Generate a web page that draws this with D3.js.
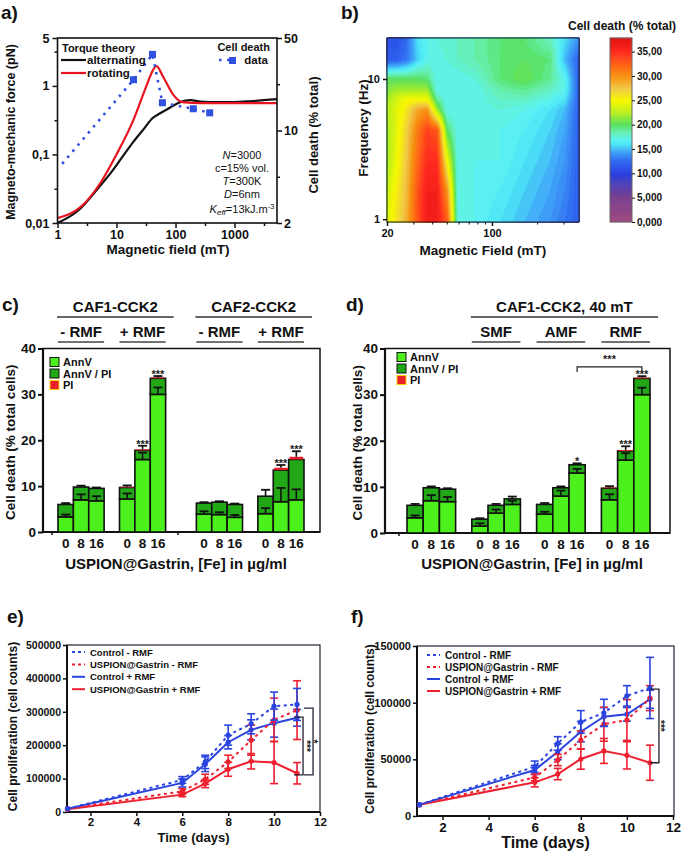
<!DOCTYPE html>
<html><head><meta charset="utf-8">
<script src="https://cdn.jsdelivr.net/npm/d3@7"></script>
<style>body{margin:0;background:#fff}svg{display:block}</style>
</head><body><svg id="c" width="682" height="853"></svg>
<script>
// ---------------- DATA ----------------
// Panel a
const altField = [1, 2.3, 5, 8, 12, 19, 30, 41, 55, 80, 120, 180, 265, 500, 1000, 2000, 5250];
const altForce = [0.01, 0.0155, 0.033, 0.054, 0.087, 0.15, 0.244, 0.34, 0.40, 0.48, 0.58, 0.62, 0.59, 0.58, 0.58, 0.60, 0.64];
const rotField = [1, 2.45, 5.3, 10.3, 19.4, 33.5, 40, 47.5, 62, 92, 130, 265, 1000, 5250];
const rotForce = [0.0118, 0.017, 0.038, 0.105, 0.32, 1.1, 1.6, 1.95, 1.35, 0.74, 0.58, 0.56, 0.56, 0.56];
const deathField = [1.2, 19.4, 40.7, 60, 200, 380];
const deathValue = [5.6, 24.2, 37.6, 16.2, 14.6, 13.6];
const deathMarker = [false, true, true, true, true, true];
const forceTicks = [0.01, 0.1, 1, 5];
const forceTickLabels = ["0,01", "0,1", "1", "5"];
const forceMinor = [0.0316, 0.316, 3.16];
const fieldTicks = [1, 10, 100, 1000];
const fieldMinor = [3.16, 31.6, 316, 3162];
const deathTicks = [2, 10, 50];
const deathMinor = [4.47, 22.4];

// Panel b (heat map grid: rows = frequencies, cols = fields)
const heatFields = [20, 23, 27, 32, 37, 43, 50, 59, 77, 113, 165, 243, 305, 380];
const heatFreqs = [0.955, 1.6, 2.6, 4.3, 6, 7.1, 8.3, 10, 13.7, 19.6];
const heatValues = [
  [24, 26, 28.5, 33, 36, 36, 33, 17, 17, 16, 15, 14, 13, 12],
  [23, 25.5, 28, 33, 36, 36, 30, 17, 17, 16.5, 15.5, 14.5, 13.5, 12],
  [22, 24.5, 27.5, 32, 35, 35, 25, 17, 17, 17, 16, 15, 14, 12],
  [22, 24, 27, 31, 34, 33, 20, 17, 17, 17, 16.5, 15.5, 14.5, 12],
  [22.5, 24, 26, 29, 30, 22, 17, 17, 17, 17.5, 17, 16, 15, 12],
  [22, 23.5, 25, 25, 25, 19, 17, 17, 17, 18, 18, 17, 16, 12],
  [21, 22, 22, 22, 22, 17, 17, 17, 17, 18.5, 19, 18, 17, 12],
  [20, 20, 20, 20, 19.5, 17, 17, 17, 17.5, 19.5, 20.5, 19, 17, 12],
  [12, 12, 13, 15.5, 17, 17, 17.5, 18, 18.5, 19.5, 20, 19.5, 15, 12],
  [11, 11, 12.5, 16, 17, 17.5, 18, 18, 18.5, 19.5, 19.5, 18, 16, 14]
];
const heatStops = [0, 5, 8, 10, 12.5, 14.5, 16, 17, 18.5, 20, 22.5, 25, 27.5, 30, 32.5, 35, 37.8];
const heatColors = ["#a04a80", "#7a4090", "#4a40b8", "#2a40e0", "#2f68f0", "#40a4f8", "#4ce6f6", "#5ef2f0", "#66f0b0", "#58e060", "#b8f020", "#f8f800", "#f0c848", "#f89010", "#ff6018", "#ff2a20", "#e01010"];
const cbTicks = [0, 5, 10, 15, 20, 25, 30, 35];
const cbLabels = ["0,000", "5,000", "10,00", "15,00", "20,00", "25,00", "30,00", "35,00"];

// Panel c
const doses = ["0", "8", "16"];
const cSlots = [0, 1, 2, 4, 5, 6, 9, 10, 11, 13, 14, 15];
const cAnnV = [3.3, 7.0, 6.8, 7.2, 15.8, 30.0, 3.9, 3.8, 3.2, 4.0, 6.6, 7.0];
const cAnnVPI = [2.7, 2.8, 2.7, 2.5, 2.0, 3.5, 2.4, 2.7, 2.8, 3.8, 6.9, 8.8];
const cPI = [0, 0, 0, 0.15, 0.2, 0.2, 0, 0, 0, 0, 0.5, 0.6];
const cAnnVErr = [0.5, 1.2, 1.0, 1.2, 1.5, 1.5, 0.6, 0.5, 0.5, 1.2, 3.0, 2.3];
const cTotErr = [0.3, 0.3, 0.2, 0.3, 0.8, 0.3, 0.2, 0.2, 0.2, 1.4, 0.6, 1.2];
const cStars = ["", "", "", "", "***", "***", "", "", "", "", "***", "***"];
const cHeads = [{label: "CAF1-CCK2", from: 0, to: 6}, {label: "CAF2-CCK2", from: 9, to: 15}];
const cSubs = [{label: "- RMF", from: 0, to: 2}, {label: "+ RMF", from: 4, to: 6}, {label: "- RMF", from: 9, to: 11}, {label: "+ RMF", from: 13, to: 15}];

// Panel d
const dSlots = [0, 1, 2, 4, 5, 6, 8, 9, 10, 12, 13, 14];
const dAnnV = [3.3, 7.0, 6.8, 1.5, 4.3, 6.2, 4.1, 8.0, 13.0, 7.2, 15.8, 30.0];
const dAnnVPI = [2.7, 2.8, 2.7, 1.5, 1.7, 1.2, 2.1, 1.8, 1.8, 2.5, 2.0, 3.5];
const dPI = [0, 0, 0, 0, 0, 0, 0, 0, 0, 0.15, 0.2, 0.2];
const dAnnVErr = [0.5, 1.2, 1.0, 0.6, 0.8, 0.8, 0.5, 1.2, 0.9, 1.2, 1.5, 1.5];
const dTotErr = [0.3, 0.3, 0.2, 0.2, 0.3, 0.5, 0.3, 0.3, 0.3, 0.3, 0.8, 0.3];
const dStars = ["", "", "", "", "", "", "", "", "*", "", "***", "***"];
const dHeads = [{label: "CAF1-CCK2, 40 mT", from: 4, to: 14}];
const dSubs = [{label: "SMF", from: 4, to: 6}, {label: "AMF", from: 8, to: 10}, {label: "RMF", from: 12, to: 14}];
const dBracket = {fromBar: 8, toBar: 11, level: 36, label: "***"};

// Panel e / f
const days = [1, 6, 7, 8, 9, 10, 11];
const eCtrlMinus = [10000, 96000, 150000, 230000, 264000, 317000, 322000];
const eCtrlMinusErr = [2000, 10000, 20000, 30000, 30000, 42000, 48000];
const eCtrlPlus = [10000, 87000, 143000, 209000, 246000, 266000, 282000];
const eCtrlPlusErr = [2000, 12000, 22000, 20000, 30000, 42000, 25000];
const eUspMinus = [10000, 62000, 98000, 150000, 215000, 276000, 305000];
const eUspMinusErr = [2000, 8000, 15000, 20000, 45000, 65000, 88000];
const eUspPlus = [8000, 52000, 85000, 128000, 152000, 148000, 116000];
const eUspPlusErr = [2000, 6000, 12000, 21000, 23000, 63000, 32000];
const eBrackets = [{top: 284000, bottom: 111000, label: "***", off: 6, starDx: 7}, {top: 311000, bottom: 111000, label: "*", off: 16, starDx: 4}];

const fCtrlMinus = [10000, 43500, 64000, 83000, 91000, 106000, 113000];
const fCtrlMinusErr = [1000, 5000, 6000, 10000, 12000, 9000, 27000];
const fCtrlPlus = [10000, 40600, 56700, 74400, 87600, 89700, 103000];
const fCtrlPlusErr = [1000, 4000, 7000, 9000, 8000, 6000, 8000];
const fUspMinus = [10000, 34000, 49400, 67000, 81000, 84700, 104000];
const fUspMinusErr = [1000, 3000, 5000, 8000, 15000, 18000, 11000];
const fUspPlus = [10000, 29700, 37000, 50300, 57400, 53500, 47000];
const fUspPlusErr = [1000, 4000, 5000, 9000, 11000, 12000, 15500];
const fBrackets = [{top: 112000, bottom: 47000, label: "***", off: 9, starDx: 6}];

const seriesNames = ["Control - RMF", "USPION@Gastrin - RMF", "Control + RMF", "USPION@Gastrin + RMF"];

// ---------------- DRAW ----------------
const F = "'Liberation Sans', Arial, Helvetica, sans-serif";
const BLUE = "#2a44e0", RED = "#ee2030", INK = "#111";
const svg = d3.select("#c");
svg.append("rect").attr("width", 682).attr("height", 853).attr("fill", "#fff");

function txt(g, x, y, s, o = {}) {
  const t = g.append("text").attr("x", x).attr("y", y).text(s)
    .attr("font-family", F).attr("font-size", o.size || 12)
    .attr("font-weight", o.weight || "bold").attr("text-anchor", o.anchor || "start")
    .attr("fill", o.fill || INK);
  if (o.rotate) t.attr("transform", `rotate(${o.rotate},${x},${y})`);
  if (o.dy) t.attr("dy", o.dy);
  return t;
}
function styleAxis(g, size, sw = 1.5) {
  g.selectAll("text").attr("font-family", F).attr("font-size", size).attr("font-weight", "bold").attr("fill", INK);
  g.selectAll("line").attr("stroke", INK).attr("stroke-width", sw);
  g.select(".domain").remove();
  return g;
}

// ===== Panel a =====
txt(svg, 1, 19, "a)", {size: 19});
const xA = d3.scaleLog().domain([1, 5250]).range([57.5, 277]);
const yA = d3.scaleLog().domain([0.01, 5]).range([223, 38]);
const yA2 = d3.scaleLog().domain([2, 50]).range([223, 38]);
const gA = svg.append("g");
styleAxis(gA.append("g").attr("transform", "translate(57.5,0)")
  .call(d3.axisLeft(yA).tickValues(forceTicks).tickFormat((d, i) => forceTickLabels[i]).tickSize(5).tickPadding(3)), 12.5);
styleAxis(gA.append("g").attr("transform", "translate(57.5,0)")
  .call(d3.axisLeft(yA).tickValues(forceMinor).tickFormat("").tickSize(3)), 12);
styleAxis(gA.append("g").attr("transform", "translate(0,223)")
  .call(d3.axisBottom(xA).tickValues(fieldTicks).tickFormat(d3.format("d")).tickSize(5).tickPadding(2)), 12.5);
styleAxis(gA.append("g").attr("transform", "translate(0,223)")
  .call(d3.axisBottom(xA).tickValues(fieldMinor).tickFormat("").tickSize(3)), 12);
styleAxis(gA.append("g").attr("transform", "translate(277,0)")
  .call(d3.axisRight(yA2).tickValues(deathTicks).tickFormat(d3.format("d")).tickSize(5).tickPadding(2)), 12.5);
styleAxis(gA.append("g").attr("transform", "translate(277,0)")
  .call(d3.axisRight(yA2).tickValues(deathMinor).tickFormat("").tickSize(3)), 12);
gA.append("defs").append("clipPath").attr("id", "clipA").append("rect")
  .attr("x", 57.5).attr("y", 38).attr("width", 219.5).attr("height", 185);
const gAc = gA.append("g").attr("clip-path", "url(#clipA)");
const lineA = d3.line().x(d => xA(d[0])).y(d => yA(d[1])).curve(d3.curveMonotoneX);
gAc.append("path").datum(d3.zip(altField, altForce)).attr("d", lineA)
  .attr("fill", "none").attr("stroke", INK).attr("stroke-width", 2.2);
gAc.append("path").datum(d3.zip(rotField, rotForce)).attr("d", lineA)
  .attr("fill", "none").attr("stroke", "#e8151f").attr("stroke-width", 2.2);
const deathPts = d3.zip(deathField, deathValue);
gAc.append("path").datum(deathPts)
  .attr("d", d3.line().x(d => xA(d[0])).y(d => yA2(d[1])))
  .attr("fill", "none").attr("stroke", "#3050e0").attr("stroke-width", 2.6).attr("stroke-dasharray", "2.5,5.5");
gAc.selectAll("rect.dm").data(deathPts.filter((d, i) => deathMarker[i])).join("rect")
  .attr("x", d => xA(d[0]) - 3.5).attr("y", d => yA2(d[1]) - 3.5).attr("width", 7).attr("height", 7).attr("fill", "#3050e0");
gA.append("rect").attr("x", 57.5).attr("y", 38).attr("width", 219.5).attr("height", 185)
  .attr("fill", "none").attr("stroke", INK).attr("stroke-width", 1.6);
// legend a
txt(gA, 62, 52, "Torque theory", {size: 11});
gA.append("line").attr("x1", 61).attr("x2", 86).attr("y1", 60).attr("y2", 60).attr("stroke", INK).attr("stroke-width", 2.2);
txt(gA, 87, 64, "alternating", {size: 11.5});
gA.append("line").attr("x1", 61).attr("x2", 86).attr("y1", 73).attr("y2", 73).attr("stroke", "#e8151f").attr("stroke-width", 2.2);
txt(gA, 87, 77, "rotating", {size: 11.5});
txt(gA, 270, 51, "Cell death", {size: 11, anchor: "end"});
gA.append("line").attr("x1", 219).attr("x2", 232).attr("y1", 60).attr("y2", 60).attr("stroke", "#3050e0").attr("stroke-width", 2.6).attr("stroke-dasharray", "2.5,5.5");
gA.append("rect").attr("x", 229).attr("y", 57).attr("width", 7).attr("height", 7).attr("fill", "#3050e0");
txt(gA, 268, 64, "data", {size: 11.5, anchor: "end"});
// annotations
const annoA = gA.append("text").attr("font-family", F).attr("font-size", 11).attr("fill", INK).attr("text-anchor", "middle");
function annoLine(y, parts) {
  const t = annoA.append("tspan").attr("x", 242).attr("y", y);
  parts.forEach(p => {
    const s = t.append("tspan").text(p[0]);
    if (p[1] === "i") s.attr("font-style", "italic");
    if (p[1] === "sub") s.attr("font-style", "italic").attr("font-size", 8).attr("dy", 2);
    if (p[1] === "back") s.attr("dy", -2);
    if (p[1] === "sup") s.attr("font-size", 7.5).attr("dy", -4);
  });
}
annoLine(159, [["N", "i"], ["=3000"]]);
annoLine(172, [["c=15% vol."]]);
annoLine(185, [["T", "i"], ["=300K"]]);
annoLine(198, [["D", "i"], ["=6nm"]]);
annoLine(213, [["K", "i"], ["eff", "sub"], ["=13kJ.m", "back"], ["-3", "sup"]]);
txt(gA, 168, 254, "Magnetic field (mT)", {size: 13.5, anchor: "middle"});
txt(gA, 15, 132, "Magneto-mechanic  force (pN)", {size: 12.5, anchor: "middle", rotate: -90});
txt(gA, 318, 135, "Cell death (% total)", {size: 13, anchor: "middle", rotate: -90});

// ===== Panel b =====
txt(svg, 341, 19, "b)", {size: 19});
const xB = d3.scaleLog().domain([20, 380]).range([387, 579]);
const yB = d3.scaleLog().domain([0.955, 19.6]).range([222, 38]);
const heatColor = d3.scaleLinear().domain(heatStops).range(heatColors).interpolate(d3.interpolateRgb).clamp(true);
const lF = heatFields.map(Math.log), lQ = heatFreqs.map(Math.log);
function locate(arr, v) {
  let i = 0;
  while (i < arr.length - 2 && v > arr[i + 1]) i++;
  const t = Math.max(0, Math.min(1, (v - arr[i]) / (arr[i + 1] - arr[i])));
  return [i, t];
}
function heatAt(f, q) {
  const [i, tx] = locate(lF, Math.log(f));
  const [j, ty] = locate(lQ, Math.log(q));
  const a = heatValues[j][i], b = heatValues[j][i + 1], c = heatValues[j + 1][i], d = heatValues[j + 1][i + 1];
  return (a * (1 - tx) + b * tx) * (1 - ty) + (c * (1 - tx) + d * tx) * ty;
}
const bx0 = xB.range()[0], by0 = yB.range()[1];
const HW = Math.round(xB.range()[1] - bx0), HH = Math.round(yB.range()[0] - by0);
const grid = new Array(HW * HH);
for (let j = 0; j < HH; j++) for (let i = 0; i < HW; i++)
  grid[j * HW + i] = heatAt(xB.invert(bx0 + i + 0.5), yB.invert(by0 + j + 0.5));
const thresholds = d3.range(0, 38, 0.5);
const contours = d3.contours().size([HW, HH]).thresholds(thresholds)(grid);
const gB = svg.append("g");
gB.append("g").attr("transform", `translate(${bx0},${by0})`)
  .selectAll("path").data(contours).join("path")
  .attr("d", d3.geoPath()).attr("fill", d => heatColor(d.value + 0.25)).attr("stroke", d => heatColor(d.value + 0.25)).attr("stroke-width", 0.3);
gB.append("rect").attr("x", bx0).attr("y", by0).attr("width", HW).attr("height", HH)
  .attr("fill", "none").attr("stroke", "#222").attr("stroke-width", 1);
styleAxis(gB.append("g").attr("transform", `translate(${bx0},0)`)
  .call(d3.axisLeft(yB).tickValues([1, 10]).tickFormat(d3.format("d")).tickSize(4).tickPadding(3)), 11, 1.5);
styleAxis(gB.append("g").attr("transform", "translate(0,222)")
  .call(d3.axisBottom(xB).tickValues([20, 100]).tickFormat(d3.format("d")).tickSize(4).tickPadding(3)), 11, 1.5);
styleAxis(gB.append("g").attr("transform", "translate(0,222)")
  .call(d3.axisBottom(xB).tickValues([30, 40, 50, 60, 70, 80, 90, 200, 300]).tickFormat("").tickSize(2.5)), 11, 1);
txt(gB, 483, 255, "Magnetic Field (mT)", {size: 13.5, anchor: "middle"});
txt(gB, 368, 128, "Frequency (Hz)", {size: 13.5, anchor: "middle", rotate: -90});
// colorbar
const cb = d3.scaleLinear().domain([0, 37.8]).range([222, 38]);
const cbVals = d3.range(0, 37.8, 0.1);
gB.append("g").selectAll("rect").data(cbVals).join("rect")
  .attr("x", 610).attr("width", 22).attr("y", d => cb(Math.min(d + 0.1, 37.8)) - 0.3)
  .attr("height", d => cb(d) - cb(Math.min(d + 0.1, 37.8)) + 0.6).attr("fill", d => heatColor(d + 0.05));
gB.append("rect").attr("x", 610).attr("y", 38).attr("width", 22).attr("height", 184)
  .attr("fill", "none").attr("stroke", "#666").attr("stroke-width", 1);
styleAxis(gB.append("g").attr("transform", "translate(632,0)")
  .call(d3.axisRight(cb).tickValues(cbTicks).tickFormat((d, i) => cbLabels[i]).tickSize(3).tickPadding(2)), 10, 1);
txt(gB, 622, 30, "Cell death (% total)", {size: 12, anchor: "middle"});

// ===== Panels c/d (stacked bars) =====
function barPanel(o) {
  const g = svg.append("g");
  const y = d3.scaleLinear().domain([0, 40]).range([o.yBot, o.yTop]);
  const nSlots = d3.max(o.slots) + 1;
  const xs = d3.scaleBand().domain(d3.range(nSlots)).range(o.barRange).padding(0);
  const bw = xs.bandwidth();
  const bars = o.slots.map((s, k) => ({
    x: xs(s), cx: xs(s) + bw / 2, a: o.annv[k], b: o.annv[k] + o.annvpi[k],
    c: o.annv[k] + o.annvpi[k] + o.pi[k], ea: o.annvErr[k], et: o.totErr[k], star: o.stars[k], dose: doses[k % 3]
  }));
  g.append("rect").attr("x", o.x0).attr("y", o.yTop).attr("width", o.x1 - o.x0).attr("height", o.yBot - o.yTop)
    .attr("fill", "none").attr("stroke", INK).attr("stroke-width", 1.5);
  g.append("line").attr("x1", o.x0).attr("x2", o.x0).attr("y1", o.yTop).attr("y2", o.yBot).attr("stroke", INK).attr("stroke-width", 2.2);
  g.append("line").attr("x1", o.x0).attr("x2", o.x1).attr("y1", o.yBot).attr("y2", o.yBot).attr("stroke", INK).attr("stroke-width", 2.2);
  styleAxis(g.append("g").attr("transform", `translate(${o.x0},0)`)
    .call(d3.axisLeft(y).tickValues([0, 10, 20, 30, 40]).tickSize(5).tickPadding(2)), 13.5, 2);
  g.selectAll("line.xt").data(o.xTicks).join("line").attr("x1", d => d).attr("x2", d => d)
    .attr("y1", o.yBot).attr("y2", o.yBot + 3).attr("stroke", INK).attr("stroke-width", 1.5);
  const bg = g.append("g");
  bars.forEach(d => {
    bg.append("rect").attr("x", d.x).attr("width", bw).attr("y", y(d.a)).attr("height", y(0) - y(d.a))
      .attr("fill", "#4cf01c").attr("stroke", INK).attr("stroke-width", 1.6);
    bg.append("rect").attr("x", d.x).attr("width", bw).attr("y", y(d.b)).attr("height", y(d.a) - y(d.b))
      .attr("fill", "#22a816").attr("stroke", INK).attr("stroke-width", 1.6);
    if (d.c > d.b) bg.append("rect").attr("x", d.x + 0.8).attr("width", bw - 1.6).attr("y", y(d.c)).attr("height", y(d.b) - y(d.c))
      .attr("fill", "#e8202a");
    [[d.a, d.ea], [d.c, d.et]].forEach(([v, e]) => {
      bg.append("line").attr("x1", d.cx).attr("x2", d.cx).attr("y1", y(v)).attr("y2", y(v + e)).attr("stroke", INK).attr("stroke-width", 1.6);
      bg.append("line").attr("x1", d.cx - 4.5).attr("x2", d.cx + 4.5).attr("y1", y(v + e)).attr("y2", y(v + e)).attr("stroke", INK).attr("stroke-width", 1.8);
    });
    if (d.star) txt(bg, d.cx, y(d.c + d.et) + 2, d.star, {size: 11, anchor: "middle", fill: "#222"});
    txt(g, d.cx, o.yBot + 16, d.dose, {size: 13.5, anchor: "middle"});
  });
  if (o.bracket) {
    const b = o.bracket, xa = bars[b.fromBar].cx, xb = bars[b.toBar].cx, yl = y(b.level);
    g.append("path").attr("d", `M${xa},${yl + 5}V${yl}H${xb}V${yl + 5}`).attr("fill", "none").attr("stroke", "#222").attr("stroke-width", 1.2);
    txt(g, (xa + xb) / 2, yl - 4, b.label, {size: 11, anchor: "middle", fill: "#222"});
  }
  const edgeL = s => xs(s), edgeR = s => xs(s) + bw;
  o.heads.forEach(h => {
    g.append("line").attr("x1", edgeL(h.from) - 1).attr("x2", edgeR(h.to) + 8).attr("y1", 317).attr("y2", 317).attr("stroke", "#333").attr("stroke-width", 1.5);
    txt(g, (edgeL(h.from) - 1 + edgeR(h.to) + 8) / 2, 312, h.label, {size: 15, anchor: "middle"});
  });
  o.subs.forEach(h => {
    g.append("line").attr("x1", edgeL(h.from)).attr("x2", edgeR(h.to)).attr("y1", 342).attr("y2", 342).attr("stroke", "#444").attr("stroke-width", 1.5);
    txt(g, (edgeL(h.from) + edgeR(h.to)) / 2, 337, h.label, {size: 15, anchor: "middle"});
  });
  const lg = [["AnnV", "#4cf01c"], ["AnnV / PI", "#22a816"], ["PI", "#e8202a"]];
  lg.forEach((l, i) => {
    const yy = o.legY + i * 11.5;
    g.append("rect").attr("x", o.legX).attr("y", yy - 4.5).attr("width", 9).attr("height", 9).attr("fill", l[1]).attr("stroke", i === 2 ? "#ffcc00" : INK).attr("stroke-width", 1);
    txt(g, o.legX + 13, yy + 4, l[0], {size: 11});
  });
  txt(g, o.yLabX, (o.yTop + o.yBot) / 2 + 2, "Cell death (% total cells)", {size: 13.5, anchor: "middle", rotate: -90});
  txt(g, o.xLabX, 569, "USPION@Gastrin, [Fe] in \u00b5g/ml", {size: 15, anchor: "middle"});
}
txt(svg, 2, 311, "c)", {size: 19});
barPanel({x0: 43, x1: 320, yTop: 348.5, yBot: 532, barRange: [58, 304], slots: cSlots,
  annv: cAnnV, annvpi: cAnnVPI, pi: cPI, annvErr: cAnnVErr, totErr: cTotErr, stars: cStars,
  heads: cHeads, subs: cSubs, legX: 50, legY: 362, yLabX: 15, xLabX: 176, xTicks: [52, 178]});
txt(svg, 346, 311, "d)", {size: 19});
barPanel({x0: 385, x1: 670, yTop: 348.5, yBot: 533, barRange: [407, 650], slots: dSlots,
  annv: dAnnV, annvpi: dAnnVPI, pi: dPI, annvErr: dAnnVErr, totErr: dTotErr, stars: dStars,
  heads: dHeads, subs: dSubs, legX: 397, legY: 357, yLabX: 362, xLabX: 532, xTicks: [399], bracket: dBracket});

// ===== Panels e/f (growth curves) =====
function growthPanel(o) {
  const g = svg.append("g");
  const x = d3.scaleLinear().domain([1, 12]).range(o.xRange);
  const y = d3.scaleLinear().domain([0, o.yMax]).range([o.yBot, o.yTop]);
  g.append("rect").attr("x", o.x0).attr("y", o.yTop).attr("width", o.x1 - o.x0).attr("height", o.yBot - o.yTop)
    .attr("fill", "none").attr("stroke", "#223").attr("stroke-width", 1.2);
  g.append("line").attr("x1", o.x0).attr("x2", o.x0).attr("y1", o.yTop).attr("y2", o.yBot).attr("stroke", INK).attr("stroke-width", 2);
  g.append("line").attr("x1", o.x0).attr("x2", o.x1).attr("y1", o.yBot).attr("y2", o.yBot).attr("stroke", INK).attr("stroke-width", 2);
  styleAxis(g.append("g").attr("transform", `translate(${o.x0},0)`)
    .call(d3.axisLeft(y).tickValues(o.yTicks).tickFormat(d3.format("d")).tickSize(4).tickPadding(2)), o.yTickSize, 1.5);
  styleAxis(g.append("g").attr("transform", `translate(0,${o.yBot})`)
    .call(d3.axisBottom(x).tickValues([2, 4, 6, 8, 10, 12]).tickSize(4).tickPadding(2)), o.xTickSize, 1.5);
  const series = [
    {v: o.s[0], e: o.s[1], c: BLUE, dash: true},
    {v: o.s[2], e: o.s[3], c: RED, dash: true},
    {v: o.s[4], e: o.s[5], c: BLUE, dash: false},
    {v: o.s[6], e: o.s[7], c: RED, dash: false}
  ];
  const line = d3.line().x(d => x(d[0])).y(d => y(d[1]));
  [3, 2, 1, 0].forEach(si => {
    const s = series[si];
    const pts = d3.zip(days, s.v, s.e);
    const eg = g.append("g").attr("stroke", s.c).attr("stroke-width", 1.6);
    pts.forEach(p => {
      if (p[2] < o.yMax * 0.01) return;
      const xx = x(p[0]);
      eg.append("line").attr("x1", xx).attr("x2", xx).attr("y1", y(p[1] - p[2])).attr("y2", y(p[1] + p[2]));
      eg.append("line").attr("x1", xx - 4).attr("x2", xx + 4).attr("y1", y(p[1] - p[2])).attr("y2", y(p[1] - p[2]));
      eg.append("line").attr("x1", xx - 4).attr("x2", xx + 4).attr("y1", y(p[1] + p[2])).attr("y2", y(p[1] + p[2]));
    });
    g.append("path").datum(pts).attr("d", line).attr("fill", "none").attr("stroke", s.c)
      .attr("stroke-width", 2).attr("stroke-dasharray", s.dash ? "3,3.5" : null);
    g.selectAll(null).data(pts).join("circle").attr("cx", d => x(d[0])).attr("cy", d => y(d[1])).attr("r", 2.6).attr("fill", s.c);
  });
  o.brackets.forEach(b => {
    const bx = x(11) + b.off;
    g.append("path").attr("d", `M${bx - 9},${y(b.top)}H${bx}V${y(b.bottom)}H${bx - 9}`).attr("fill", "none").attr("stroke", "#223").attr("stroke-width", 1.3);
    txt(g, bx + b.starDx - 7.5, (y(b.top) + y(b.bottom)) / 2, b.label, {size: 10, anchor: "middle", rotate: 90, fill: "#222"});
  });
  seriesNames.forEach((n, i) => {
    const s = series[i], yy = o.legY + i * o.legStep;
    g.append("line").attr("x1", o.legX).attr("x2", o.legX + 13).attr("y1", yy).attr("y2", yy).attr("stroke", s.c)
      .attr("stroke-width", 2).attr("stroke-dasharray", s.dash ? "3,3" : null);
    txt(g, o.legX + 18, yy + 3.5, n, {size: o.legSize});
  });
  txt(g, (o.x0 + o.x1) / 2, o.xLabY, "Time (days)", {size: o.xLabSize, anchor: "middle"});
  txt(g, o.yLabX, (o.yTop + o.yBot) / 2 - 2, "Cell proliferation (cell counts)", {size: 12, anchor: "middle", rotate: -90});
}
txt(svg, 7, 623, "e)", {size: 19});
growthPanel({x0: 67, x1: 320, xRange: [67.5, 320], yTop: 645, yBot: 812, yMax: 500000,
  yTicks: [0, 100000, 200000, 300000, 400000, 500000], yTickSize: 10.5, xTickSize: 11.5,
  s: [eCtrlMinus, eCtrlMinusErr, eUspMinus, eUspMinusErr, eCtrlPlus, eCtrlPlusErr, eUspPlus, eUspPlusErr],
  brackets: eBrackets, legX: 72, legY: 652, legStep: 12.4, legSize: 9.5, xLabY: 842, xLabSize: 13, yLabX: 17});
txt(svg, 351, 623, "f)", {size: 19});
growthPanel({x0: 417, x1: 674, xRange: [419.5, 673], yTop: 646, yBot: 816, yMax: 150000,
  yTicks: [0, 50000, 100000, 150000], yTickSize: 11, xTickSize: 13.5,
  s: [fCtrlMinus, fCtrlMinusErr, fUspMinus, fUspMinusErr, fCtrlPlus, fCtrlPlusErr, fUspPlus, fUspPlusErr],
  brackets: fBrackets, legX: 427, legY: 655, legStep: 12, legSize: 10, xLabY: 848, xLabSize: 16, yLabX: 374});
</script></body></html>
